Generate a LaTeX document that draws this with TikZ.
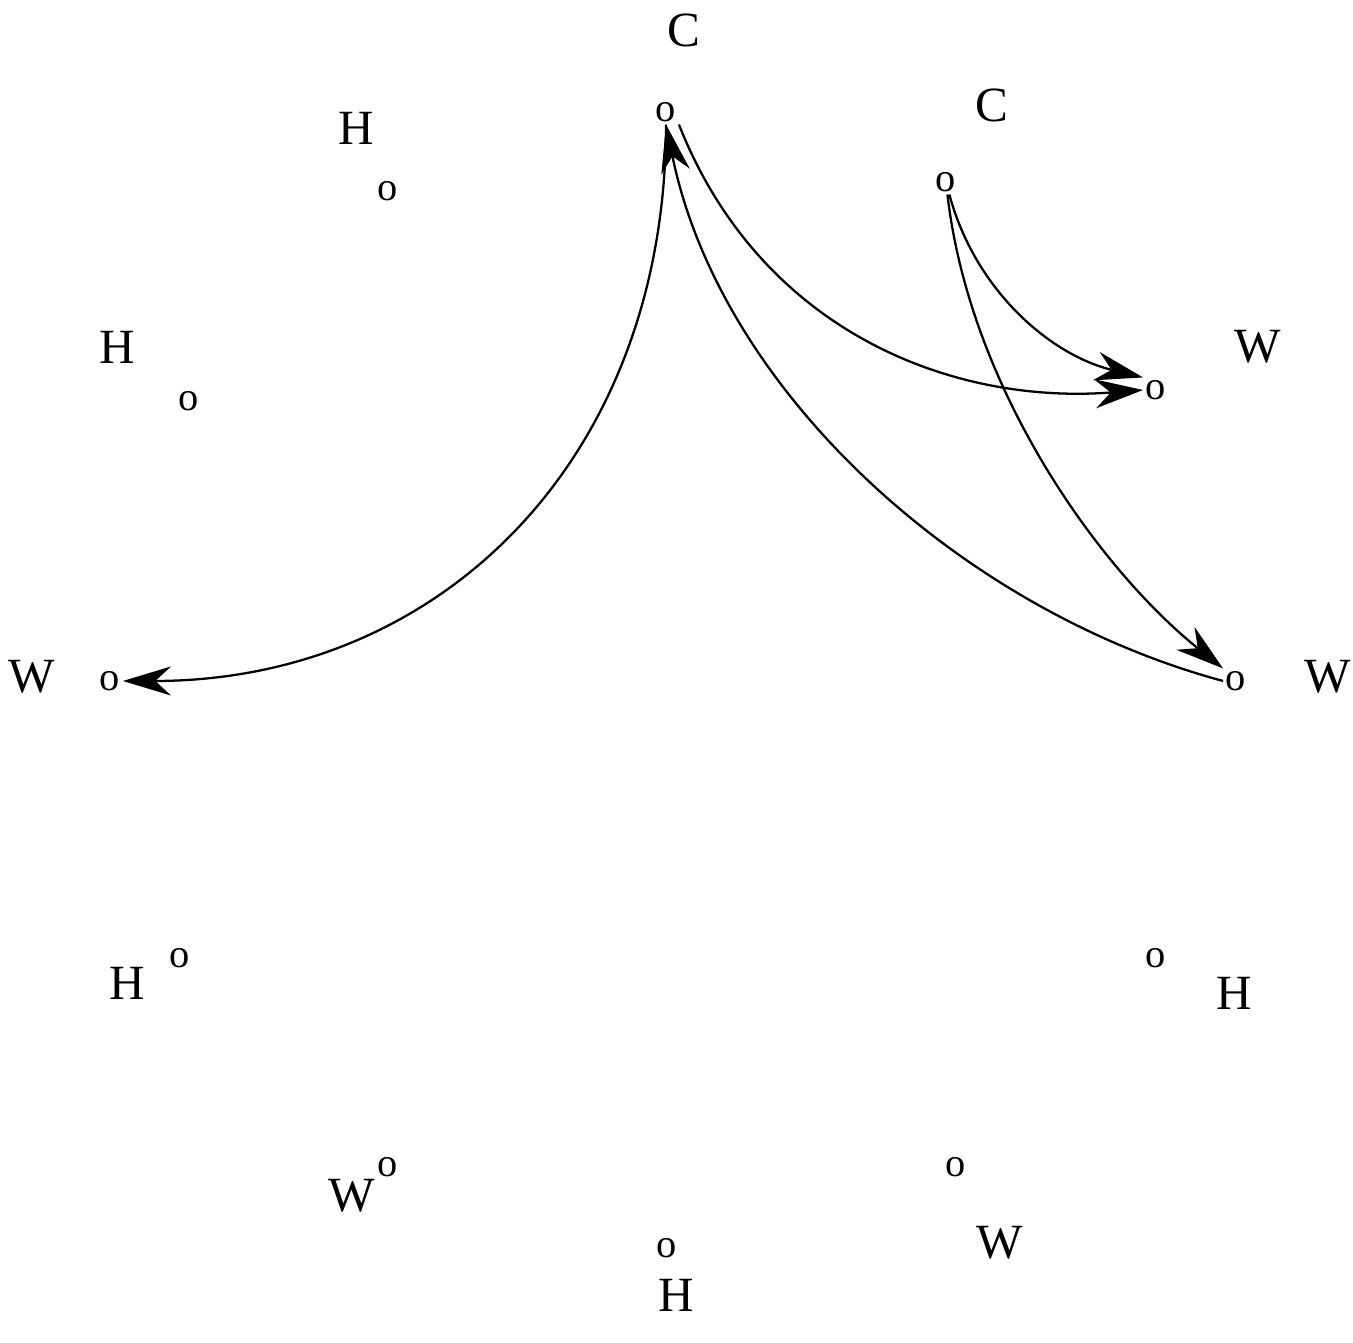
\documentclass[tikz,border=0pt]{standalone}
\usepackage{fontspec}
\setmainfont{Liberation Serif}
\usepackage{tikz}
\usetikzlibrary{arrows.meta}

\begin{document}
\begin{tikzpicture}[
  x=0.01cm, y=-0.01cm,
  pt/.style={inner sep=0.6pt,font=\fontsize{11.5}{13}\selectfont},
  lbl/.style={inner sep=0pt,font=\fontsize{14}{16}\selectfont},
  arc/.style={-{Stealth[length=4.8mm,width=2.9mm]},line width=0.65pt}]
\useasboundingbox (0,0) rectangle (1353,1343);
% points
\node[pt] (c1) at (666,112) {o};
\node[pt] (c2) at (946,182) {o};
\node[pt] (h1) at (388,191) {o};
\node[pt] (h2) at (189,401) {o};
\node[pt] (w1) at (1156,390) {o};
\node[pt] (w2) at (110,681) {o};
\node[pt] (w3) at (1236,681) {o};
\node[pt] (h3) at (180,958) {o};
\node[pt] (h4) at (1156,958) {o};
\node[pt] (w4) at (388,1167) {o};
\node[pt] (w5) at (956,1167) {o};
\node[pt] (h5) at (667,1248) {o};
% labels
\node[lbl] (lc1) at (684,30) {C};
\node[lbl] (lc2) at (992,105) {C};
\node[lbl] (lh1) at (356,128) {H};
\node[lbl] (lh2) at (117,347) {H};
\node[lbl] (lw1) at (1258,347) {W};
\node[lbl] (lw2) at (32,677) {W};
\node[lbl] (lw3) at (1328,677) {W};
\node[lbl] (lh3) at (127,983) {H};
\node[lbl] (lh4) at (1234,993) {H};
\node[lbl] (lw4) at (352,1196) {W};
\node[lbl] (lw5) at (1000,1243) {W};
\node[lbl] (lh5) at (676,1295) {H};
% arcs
\draw[arc] (c1) .. controls (666,460) and (440,681) .. (w2);
\draw[arc] (c1.south east) .. controls (760,330) and (950,405) .. (w1.west);
\draw[arc] (w3.west) .. controls (960,610) and (720,390) .. (c1.south);
\draw[arc] (c2) .. controls (975,290) and (1050,355) .. (w1.north west);
\draw[arc] (c2) .. controls (970,390) and (1100,570) .. (w3.north west);
\end{tikzpicture}
\end{document}
